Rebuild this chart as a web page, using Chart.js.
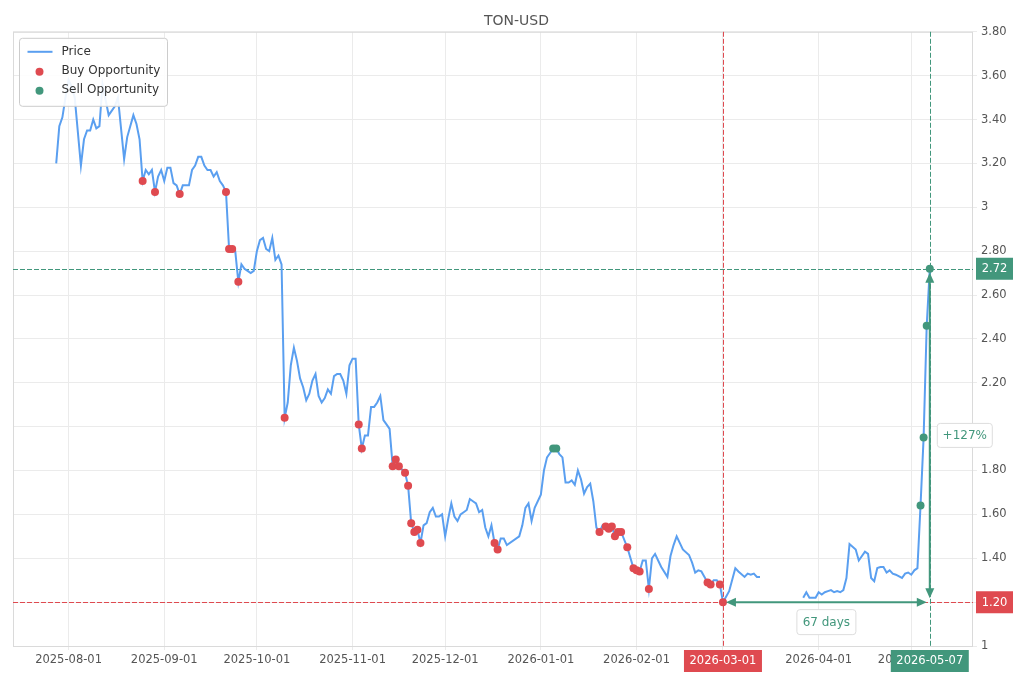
<!DOCTYPE html>
<html>
<head>
<meta charset="utf-8">
<title>TON-USD</title>
<script src="https://cdn.jsdelivr.net/npm/chart.js@4.4.1/dist/chart.umd.min.js"></script>
<style>
  html, body { margin: 0; padding: 0; background: #fff; }
  #chart { display: block; }
</style>
</head>
<body>
<canvas id="chart" width="1020" height="680"></canvas>
<script>
// daily closes (null = no data, breaks the line)
const dates = [
  '2025-07-28','2025-07-29','2025-07-30','2025-07-31',
  '2025-08-01','2025-08-02','2025-08-03','2025-08-05','2025-08-06','2025-08-07','2025-08-08','2025-08-09',
  '2025-08-10','2025-08-11','2025-08-12','2025-08-14','2025-08-16','2025-08-17','2025-08-19','2025-08-20',
  '2025-08-22','2025-08-23','2025-08-24','2025-08-25','2025-08-26','2025-08-27','2025-08-28','2025-08-29',
  '2025-08-30','2025-08-31',
  '2025-09-01','2025-09-02','2025-09-03','2025-09-04','2025-09-05','2025-09-06','2025-09-07','2025-09-08',
  '2025-09-09','2025-09-10','2025-09-11','2025-09-12','2025-09-13','2025-09-14','2025-09-15','2025-09-16',
  '2025-09-17','2025-09-18','2025-09-19','2025-09-20','2025-09-21','2025-09-22','2025-09-23','2025-09-24',
  '2025-09-25','2025-09-26','2025-09-27','2025-09-28','2025-09-29','2025-09-30',
  '2025-10-01','2025-10-02','2025-10-03','2025-10-04','2025-10-05','2025-10-06','2025-10-07','2025-10-08',
  '2025-10-09','2025-10-10','2025-10-11','2025-10-12','2025-10-13','2025-10-14','2025-10-15','2025-10-16',
  '2025-10-17','2025-10-18','2025-10-19','2025-10-20','2025-10-21','2025-10-22','2025-10-23','2025-10-24',
  '2025-10-25','2025-10-26','2025-10-27','2025-10-28','2025-10-29','2025-10-30','2025-10-31',
  '2025-11-01','2025-11-02','2025-11-03','2025-11-04','2025-11-05','2025-11-06','2025-11-07','2025-11-08',
  '2025-11-09','2025-11-10','2025-11-11','2025-11-12','2025-11-13','2025-11-14','2025-11-15','2025-11-16',
  '2025-11-18','2025-11-19','2025-11-20','2025-11-21','2025-11-22','2025-11-23','2025-11-24','2025-11-25',
  '2025-11-26','2025-11-27','2025-11-28','2025-11-29','2025-11-30',
  '2025-12-01','2025-12-02','2025-12-03','2025-12-04','2025-12-05','2025-12-06','2025-12-07','2025-12-08',
  '2025-12-09','2025-12-10','2025-12-11','2025-12-12','2025-12-13','2025-12-14','2025-12-15','2025-12-16',
  '2025-12-17','2025-12-18','2025-12-19','2025-12-20','2025-12-21','2025-12-25','2025-12-26','2025-12-27',
  '2025-12-28','2025-12-29','2025-12-30',
  '2026-01-01','2026-01-02','2026-01-03','2026-01-04','2026-01-05','2026-01-06','2026-01-07','2026-01-08',
  '2026-01-09','2026-01-10','2026-01-11','2026-01-12','2026-01-13','2026-01-14','2026-01-15','2026-01-16',
  '2026-01-17','2026-01-18','2026-01-19','2026-01-20','2026-01-21','2026-01-22','2026-01-23','2026-01-24',
  '2026-01-25','2026-01-26','2026-01-27','2026-01-29','2026-01-31',
  '2026-02-01','2026-02-02','2026-02-03','2026-02-04','2026-02-05','2026-02-06','2026-02-07','2026-02-08',
  '2026-02-09','2026-02-11','2026-02-12','2026-02-13','2026-02-14','2026-02-15','2026-02-16','2026-02-18',
  '2026-02-19','2026-02-20','2026-02-21','2026-02-22','2026-02-24','2026-02-25','2026-02-26','2026-02-27',
  '2026-02-28',
  '2026-03-01','2026-03-02','2026-03-03','2026-03-05','2026-03-06','2026-03-08','2026-03-09','2026-03-10',
  '2026-03-11','2026-03-12','2026-03-13','2026-03-20','2026-03-27','2026-03-28','2026-03-29','2026-03-31',
  '2026-04-01','2026-04-02','2026-04-03','2026-04-04','2026-04-05','2026-04-06','2026-04-07','2026-04-08',
  '2026-04-09','2026-04-10','2026-04-11','2026-04-13','2026-04-14','2026-04-16','2026-04-17','2026-04-18',
  '2026-04-19','2026-04-20','2026-04-21','2026-04-22','2026-04-23','2026-04-24','2026-04-25','2026-04-26',
  '2026-04-28','2026-04-29','2026-04-30',
  '2026-05-01','2026-05-02','2026-05-03','2026-05-04','2026-05-05','2026-05-06','2026-05-07'
];
const prices = [
  3.20, 3.37, 3.41, 3.50,
  3.58, 3.55, 3.50, 3.19, 3.31, 3.35, 3.35, 3.40,
  3.36, 3.37, 3.56, 3.42, 3.46, 3.50, 3.22, 3.32,
  3.42, 3.38, 3.31, 3.12, 3.17, 3.15, 3.17, 3.07,
  3.14, 3.17,
  3.12, 3.18, 3.18, 3.11, 3.10, 3.06, 3.10, 3.10,
  3.10, 3.17, 3.19, 3.23, 3.23, 3.19, 3.17, 3.17,
  3.14, 3.16, 3.12, 3.10, 3.07, 2.81, 2.81, 2.80,
  2.66, 2.74, 2.72, 2.71, 2.70, 2.71,
  2.80, 2.85, 2.86, 2.81, 2.80, 2.86, 2.76, 2.78,
  2.74, 2.04, 2.11, 2.28, 2.36, 2.30, 2.22, 2.18,
  2.12, 2.15, 2.21, 2.24, 2.14, 2.11, 2.13, 2.17,
  2.15, 2.23, 2.24, 2.24, 2.21, 2.15, 2.28,
  2.31, 2.31, 2.01, 1.90, 1.96, 1.96, 2.09, 2.09,
  2.11, 2.14, 2.03, 2.01, 1.99, 1.82, 1.85, 1.82,
  1.79, 1.73, 1.56, 1.52, 1.53, 1.47, 1.55, 1.56,
  1.61, 1.63, 1.59, 1.59, 1.60,
  1.50, 1.58, 1.65, 1.59, 1.57, 1.60, 1.61, 1.62,
  1.67, 1.66, 1.65, 1.61, 1.62, 1.54, 1.50, 1.55,
  1.47, 1.44, 1.49, 1.49, 1.46, 1.50, 1.55, 1.63,
  1.65, 1.57, 1.63,
  1.69, 1.80, 1.86, 1.88, 1.90, 1.90, 1.875, 1.86,
  1.745, 1.745, 1.755, 1.735, 1.80, 1.76, 1.695, 1.725,
  1.74, 1.66, 1.54, 1.52, 1.55, 1.545, 1.535, 1.545,
  1.50, 1.52, 1.52, 1.45, 1.355,
  1.345, 1.34, 1.39, 1.39, 1.26, 1.40, 1.42, 1.39,
  1.36, 1.315, 1.41, 1.46, 1.50, 1.47, 1.44, 1.415,
  1.38, 1.335, 1.345, 1.34, 1.29, 1.28, 1.30, 1.30,
  1.28,
  1.20, 1.225, 1.25, 1.355, 1.34, 1.315, 1.33, 1.325,
  1.33, 1.315, 1.315, null, 1.22, 1.245, 1.22, 1.22,
  1.245, 1.235, 1.245, 1.25, 1.255, 1.245, 1.25, 1.245,
  1.255, 1.31, 1.465, 1.44, 1.39, 1.43, 1.42, 1.31,
  1.295, 1.355, 1.36, 1.36, 1.335, 1.345, 1.33, 1.325,
  1.31, 1.33, 1.335,
  1.325, 1.345, 1.355, 1.64, 1.95, 2.46, 2.72
];
const buyDates = [
  '2025-08-25','2025-08-29','2025-09-06','2025-09-21','2025-09-22','2025-09-23','2025-09-25',
  '2025-10-10','2025-11-03','2025-11-04','2025-11-14','2025-11-15','2025-11-16','2025-11-18',
  '2025-11-19','2025-11-20','2025-11-21','2025-11-22','2025-11-23','2025-12-17','2025-12-18',
  '2026-01-20','2026-01-22','2026-01-23','2026-01-24','2026-01-25','2026-01-26','2026-01-27',
  '2026-01-29','2026-01-31','2026-02-01','2026-02-02','2026-02-05','2026-02-24','2026-02-25',
  '2026-02-28','2026-03-01'
];
const sellDates = [
  '2026-01-05','2026-01-06','2026-05-04','2026-05-05','2026-05-06','2026-05-07'
];
const monthTicks = [
  '2025-08-01','2025-09-01','2025-10-01','2025-11-01','2025-12-01',
  '2026-01-01','2026-02-01','2026-03-01','2026-04-01','2026-05-01'
];
const xStart = '2025-07-14';
const xEnd = '2026-05-21';

// trade highlight
const entryDate = '2026-03-01';
const exitDate = '2026-05-07';
const entryPrice = 1.20;
const exitPrice = 2.72;
const durationLabel = '67 days';
const gainLabel = '+127%';

const GREEN = '#42977c';
const RED = '#df4a50';
const BLUE = '#5a9ff0';
const GRID = '#ebebeb';
const FRAME = '#dadada';
const TEXT = '#555555';

Chart.defaults.font.family = "'DejaVu Sans', sans-serif";

const toTime = s => Date.parse(s + 'T00:00:00Z');
const fmtDate = v => new Date(v).toISOString().slice(0, 10);
const priceOf = {};
dates.forEach((d, i) => { priceOf[d] = prices[i]; });

const fmtPrice = v => Math.abs(v - Math.round(v)) < 1e-9 ? String(Math.round(v)) : v.toFixed(2);
// the gain badge sits over the axis there, so that tick label stays hidden
const midPrice = (entryPrice + exitPrice) / 2;

function roundRect(ctx, x, y, w, h, r) {
  ctx.beginPath();
  ctx.moveTo(x + r, y);
  ctx.lineTo(x + w - r, y);
  ctx.arcTo(x + w, y, x + w, y + r, r);
  ctx.lineTo(x + w, y + h - r);
  ctx.arcTo(x + w, y + h, x + w - r, y + h, r);
  ctx.lineTo(x + r, y + h);
  ctx.arcTo(x, y + h, x, y + h - r, r);
  ctx.lineTo(x, y + r);
  ctx.arcTo(x, y, x + r, y, r);
  ctx.closePath();
}

function badge(ctx, cx, cy, w, h, text, fill, color, stroke) {
  roundRect(ctx, cx - w / 2, cy - h / 2, w, h, stroke ? 3 : 0);
  ctx.fillStyle = fill;
  ctx.fill();
  if (stroke) {
    ctx.strokeStyle = stroke;
    ctx.lineWidth = 1;
    ctx.stroke();
  }
  ctx.fillStyle = color;
  ctx.textAlign = 'center';
  ctx.textBaseline = 'middle';
  ctx.fillText(text, cx, cy + 0.5);
}

function arrowHead(ctx, tx, ty, ang) {
  const L = 10, W = 4.5;
  const c = Math.cos(ang), s = Math.sin(ang);
  ctx.beginPath();
  ctx.moveTo(tx, ty);
  ctx.lineTo(tx - L * c + W * s, ty - L * s - W * c);
  ctx.lineTo(tx - L * c - W * s, ty - L * s + W * c);
  ctx.closePath();
  ctx.fill();
}

function doubleArrow(ctx, x1, y1, x2, y2) {
  const ang = Math.atan2(y2 - y1, x2 - x1);
  ctx.beginPath();
  ctx.moveTo(x1 + 8 * Math.cos(ang), y1 + 8 * Math.sin(ang));
  ctx.lineTo(x2 - 8 * Math.cos(ang), y2 - 8 * Math.sin(ang));
  ctx.stroke();
  arrowHead(ctx, x2, y2, ang);
  arrowHead(ctx, x1, y1, ang + Math.PI);
}

const overlay = {
  id: 'overlay',
  beforeDatasetsDraw(chart) {
    const { ctx, chartArea: a, scales: { x, y } } = chart;
    ctx.save();
    ctx.strokeStyle = FRAME;
    ctx.lineWidth = 1;
    ctx.strokeRect(a.left + 0.5, a.top + 0.5, a.right - a.left - 1, a.bottom - a.top);
    ctx.setLineDash([5, 2]);
    const guides = [
      [y.getPixelForValue(exitPrice), GREEN, 'h'],
      [y.getPixelForValue(entryPrice), RED, 'h'],
      [x.getPixelForValue(toTime(entryDate)), RED, 'v'],
      [x.getPixelForValue(toTime(exitDate)), GREEN, 'v']
    ];
    guides.forEach(([p, col, dir]) => {
      ctx.strokeStyle = col;
      ctx.beginPath();
      if (dir === 'h') {
        ctx.moveTo(a.left, Math.round(p) + 0.5);
        ctx.lineTo(a.right, Math.round(p) + 0.5);
      } else {
        ctx.moveTo(Math.round(p) + 0.5, a.top);
        ctx.lineTo(Math.round(p) + 0.5, a.bottom);
      }
      ctx.stroke();
    });
    ctx.restore();
  },
  afterDatasetsDraw(chart) {
    const { ctx, chartArea: a, scales: { x, y } } = chart;
    const x1 = x.getPixelForValue(toTime(entryDate));
    const x2 = x.getPixelForValue(toTime(exitDate));
    const y1 = y.getPixelForValue(entryPrice);
    const y2 = y.getPixelForValue(exitPrice);
    ctx.save();
    ctx.strokeStyle = GREEN;
    ctx.fillStyle = GREEN;
    ctx.lineWidth = 2;
    doubleArrow(ctx, x1 + 3, y1, x2 - 3, y1);
    doubleArrow(ctx, x2, y1 - 4, x2, y2 + 4);

    ctx.font = "12px 'DejaVu Sans'";
    badge(ctx, (x1 + x2) / 2, y1 + 20, 59, 25, durationLabel, '#ffffff', GREEN, '#dddddd');
    badge(ctx, x2 + 35, (y1 + y2) / 2, 55, 24, gainLabel, '#ffffff', GREEN, '#dddddd');

    ctx.font = "11.5px 'DejaVu Sans'";
    badge(ctx, a.right + 21.5, y2, 37, 22, fmtPrice(exitPrice), GREEN, '#ffffff');
    badge(ctx, a.right + 21.5, y1, 37, 22, fmtPrice(entryPrice), RED, '#ffffff');
    badge(ctx, x1, a.bottom + 15, 78, 22, entryDate, RED, '#ffffff');
    badge(ctx, x2, a.bottom + 15, 78, 22, exitDate, GREEN, '#ffffff');
    ctx.restore();
  },
  afterDraw(chart) {
    const { ctx, chartArea: a } = chart;
    const lx = a.left + 6.5, ly = a.top + 6.5;
    ctx.save();
    roundRect(ctx, lx, ly, 148, 68, 3);
    ctx.fillStyle = 'rgba(255,255,255,0.9)';
    ctx.fill();
    ctx.strokeStyle = '#cccccc';
    ctx.lineWidth = 1;
    ctx.stroke();

    ctx.strokeStyle = BLUE;
    ctx.lineWidth = 2;
    ctx.beginPath();
    ctx.moveTo(lx + 8, ly + 13.5);
    ctx.lineTo(lx + 33, ly + 13.5);
    ctx.stroke();
    [[RED, ly + 33.5], [GREEN, ly + 52.5]].forEach(([col, cy]) => {
      ctx.fillStyle = col;
      ctx.beginPath();
      ctx.arc(lx + 20, cy, 4, 0, Math.PI * 2);
      ctx.fill();
    });

    ctx.fillStyle = '#333333';
    ctx.font = "12px 'DejaVu Sans'";
    ctx.textAlign = 'left';
    ctx.textBaseline = 'middle';
    const names = chart.data.datasets.map(ds => ds.label);
    names.forEach((n, i) => ctx.fillText(n, lx + 42, ly + 14 + i * 19));
    ctx.restore();
  }
};

new Chart(document.getElementById('chart'), {
  type: 'line',
  data: {
    datasets: [
      {
        label: 'Price',
        data: dates.map((d, i) => ({ x: toTime(d), y: prices[i] })),
        borderColor: BLUE,
        borderWidth: 2,
        pointRadius: 0,
        tension: 0,
        spanGaps: false,
        order: 3
      },
      {
        label: 'Buy Opportunity',
        data: buyDates.map(d => ({ x: toTime(d), y: priceOf[d] })),
        showLine: false,
        backgroundColor: RED,
        borderColor: RED,
        borderWidth: 0,
        pointRadius: 4,
        order: 1
      },
      {
        label: 'Sell Opportunity',
        data: sellDates.map(d => ({ x: toTime(d), y: priceOf[d] })),
        showLine: false,
        backgroundColor: GREEN,
        borderColor: GREEN,
        borderWidth: 0,
        pointRadius: 4,
        order: 1
      }
    ]
  },
  options: {
    responsive: false,
    animation: false,
    layout: { padding: { left: 13, right: 0, top: 0, bottom: 0 } },
    plugins: {
      legend: { display: false },
      tooltip: { enabled: false },
      title: {
        display: true,
        text: 'TON-USD',
        color: TEXT,
        font: { size: 14, weight: 'normal' },
        padding: { top: 13, bottom: 2 }
      }
    },
    scales: {
      x: {
        type: 'linear',
        min: toTime(xStart),
        max: toTime(xEnd),
        afterBuildTicks: s => { s.ticks = monthTicks.map(m => ({ value: toTime(m) })); },
        afterFit: s => { s.height = 34; },
        ticks: {
          autoSkip: false,
          maxRotation: 0,
          color: TEXT,
          font: { size: 11.5 },
          padding: 3,
          callback: v => fmtDate(v)
        },
        grid: { color: GRID, tickLength: 4 },
        border: { display: false }
      },
      y: {
        position: 'right',
        min: 1,
        max: 3.8,
        afterFit: s => { s.width = 47; },
        ticks: {
          stepSize: 0.2,
          color: TEXT,
          font: { size: 11.5 },
          padding: 4,
          callback: v => Math.abs(v - midPrice) < 0.06 ? '' : fmtPrice(v)
        },
        grid: { color: GRID, tickLength: 4 },
        border: { display: false }
      }
    }
  },
  plugins: [overlay]
});
</script>
</body>
</html>
